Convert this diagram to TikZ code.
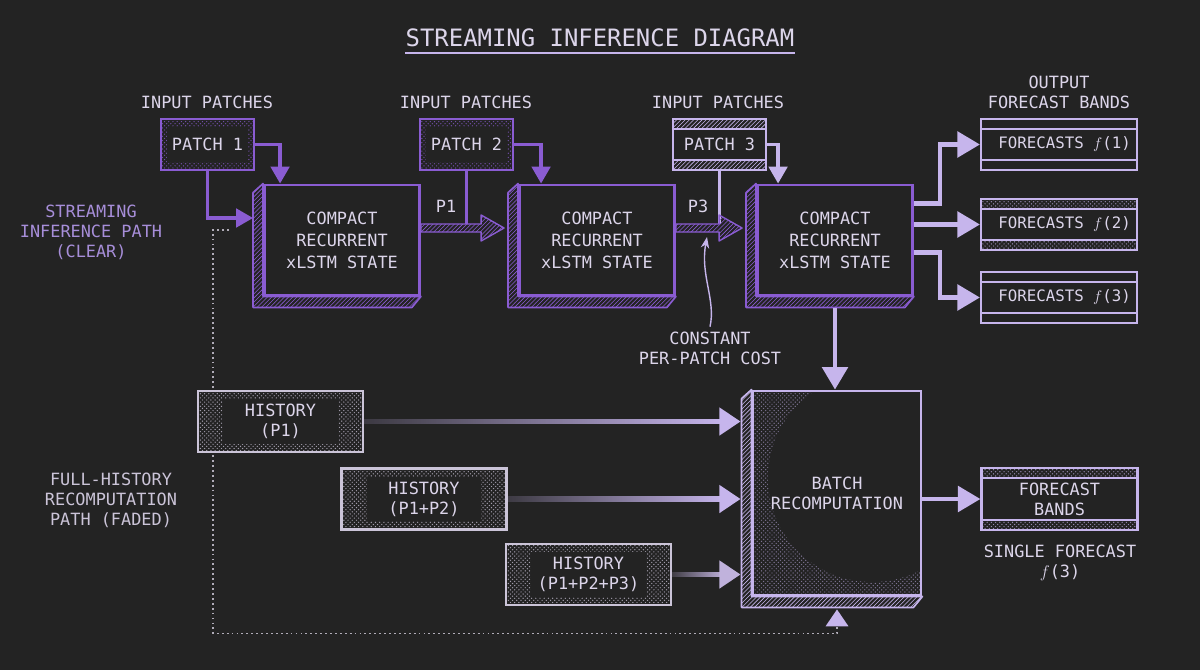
\documentclass[tikz,border=0pt]{standalone}
\usepackage{fontspec}
\setmainfont{DejaVu Sans Mono}
\usetikzlibrary{arrows.meta, positioning, calc, patterns, fadings}
\definecolor{bgc}{HTML}{232323}
\definecolor{vio}{HTML}{8A5CD2}
\definecolor{lav}{HTML}{C6B5EC}
\definecolor{ink}{HTML}{DCD5EA}
\definecolor{dim}{HTML}{A78ED9}
\definecolor{hist}{HTML}{CBC4D8}
\definecolor{fog}{HTML}{B0ACB8}
\tikzfading[name=fadein, left color=transparent!85, right color=transparent!0]

\begin{document}
\begin{tikzpicture}[x=0.025cm, y=-0.025cm,
  txt/.style={text=ink, align=center, font=\fontsize{12}{14.2}\selectfont},
  statebox/.style={txt, draw=#1, line width=2pt, fill=bgc,
    minimum width=3.875cm, minimum height=2.75cm, font=\fontsize{12}{15.6}\selectfont},
  dotframe/.style 2 args={path picture={
      \fill[pattern=crosshatch dots, pattern color=#1]
        (path picture bounding box.south west) rectangle (path picture bounding box.north east);
      \fill[bgc] ([shift={(#2,-6pt)}]path picture bounding box.north west)
        rectangle ([shift={(-#2,6pt)}]path picture bounding box.south east);}},
  bands/.style 2 args={path picture={
      \fill[#2] (path picture bounding box.north west) rectangle ([yshift=-7pt]path picture bounding box.north east);
      \fill[#2] (path picture bounding box.south west) rectangle ([yshift=7pt]path picture bounding box.south east);
      \draw[#1, line width=1pt]
        ([yshift=-7pt]path picture bounding box.north west) -- ([yshift=-7pt]path picture bounding box.north east)
        ([yshift=7pt]path picture bounding box.south west) -- ([yshift=7pt]path picture bounding box.south east);}},
  patchbox/.style={txt, draw=#1, line width=1.8pt, fill=bgc, minimum width=2.325cm, minimum height=1.275cm},
  fcbox/.style={txt, draw=lav, line width=1.5pt, fill=bgc, minimum width=3.9cm, minimum height=1.275cm,
    font=\fontsize{11.2}{14.2}\selectfont},
  histbox/.style={txt, draw=hist, line width=1.5pt, fill=bgc, minimum width=4.125cm, minimum height=1.525cm,
    dotframe={hist!75!bgc}{18pt}},
  viowire/.style={vio, line width=2.6pt, -{Triangle[length=12pt, width=13pt]}},
  lavwire/.style={lav, line width=3.2pt, -{Triangle[length=16pt, width=18pt]}},
  fatarrow/.style={draw=vio, line width=1pt, line join=round, pattern=north east lines, pattern color=vio},
  histline/.style={#1, line width=3.6pt, path fading=fadein},
  histtip/.style={#1, line width=3.6pt, -{Triangle[length=15pt, width=19pt]}}]

  \fill[bgc] (0,0) rectangle (1200,670);
  \useasboundingbox (0,0) rectangle (1200,670);

  % title
  \node[txt, font=\fontsize{17}{20}\selectfont, inner xsep=0pt, inner ysep=4pt] (title) at (600,38)
    {STREAMING INFERENCE DIAGRAM};
  \draw[lav, line width=1.2pt] (title.south west) -- (title.south east);

  % streaming path
  \node[statebox=vio] (s1) at (342,240) {COMPACT\\RECURRENT\\xLSTM STATE};
  \node[statebox=vio] (s2) at (597,240) {COMPACT\\RECURRENT\\xLSTM STATE};
  \node[statebox=vio] (s3) at (835,240) {COMPACT\\RECURRENT\\xLSTM STATE};
  \node[statebox=lav, minimum width=4.2cm, minimum height=5.1cm, font=\fontsize{12}{14.2}\selectfont,
    path picture={
      \fill[pattern=crosshatch dots, pattern color=lav!55!bgc]
        (path picture bounding box.south west) rectangle (path picture bounding box.north east);
      \fill[bgc] ($(path picture bounding box.north west)+(119,87)$) circle[radius=104];}]
    (ba) at (837,493) {BATCH\\RECOMPUTATION};

  \foreach \nd/\cc in {s1/vio, s2/vio, s3/vio, ba/lav}
    \filldraw[draw=\cc, line width=1.2pt, line join=round, pattern=north east lines, pattern color=\cc]
      (\nd.north west) -- ++(-10,9) |- ($(\nd.south east)+(-9,11)$) -- (\nd.south east)
      -- (\nd.south west) -- cycle;

  \node[patchbox=vio, dotframe={vio!75!bgc}{4pt}] (pa1) at (207.5,144.5) {PATCH 1};
  \node[patchbox=vio, dotframe={vio!75!bgc}{4pt}] (pa2) at (466.5,144.5) {PATCH 2};
  \node[patchbox=lav, bands={lav}{pattern=north east lines, pattern color=lav}] (pa3) at (719.5,144.5) {PATCH 3};

  \node[txt] (in1) at (207,102) {INPUT PATCHES};
  \node[txt] (in2) at (466,102) {INPUT PATCHES};
  \node[txt] (in3) at (718,102) {INPUT PATCHES};
  \node[txt] (outl) at (1059,92) {OUTPUT\\FORECAST BANDS};
  \node[txt] (p1l) at (446,206) {P1};
  \node[txt] (p3l) at (698,206) {P3};
  \node[txt, text=dim] (streaml) at (91,232) {STREAMING\\INFERENCE PATH\\(CLEAR)};
  \node[txt, text=hist] (fulll) at (111,500) {FULL-HISTORY\\RECOMPUTATION\\PATH (FADED)};
  \node[txt] (cc) at (710,348) {CONSTANT\\PER-PATCH COST};
  \node[txt] (sfl) at (1060,563) {SINGLE FORECAST\\$f$(3)};

  \node[fcbox, bands={lav}{bgc}] (f1) at (1059,144.5) {\hspace*{8pt}FORECASTS $f$(1)};
  \node[fcbox, bands={lav}{pattern=crosshatch dots, pattern color=lav!70!bgc}] (f2) at (1059,224.5) {\hspace*{8pt}FORECASTS $f$(2)};
  \node[fcbox, bands={lav}{bgc}] (f3) at (1059,297.5) {\hspace*{8pt}FORECASTS $f$(3)};
  \node[fcbox, minimum height=1.55cm, font=\fontsize{12}{14.2}\selectfont,
    bands={lav}{pattern=crosshatch dots, pattern color=lav!70!bgc}]
    (fb) at (1059.5,499) {FORECAST\\BANDS};

  % patches into the states
  \coordinate (p1top) at ($(s1.east)+(0,-16)$);
  \coordinate (p3top) at ($(s2.east)+(0,-16)$);
  \draw[viowire] (pa1.east) -| ($(s1.north west)+(17,0)$);
  \draw[viowire] (pa1.south) |- ($(s1.west)+(-10,-22)$);
  \draw[viowire] (pa2.east) -| ($(s2.north west)+(23,0)$);
  \draw[vio, line width=2.6pt] (pa2.south) -- (pa2.south |- p1top);
  \draw[viowire, lav] (pa3.east) -| ($(s3.north west)+(22,0)$);
  \draw[lav, line width=2.6pt] (pa3.south) -- (pa3.south |- p3top);

  \filldraw[fatarrow] (p1top) -- ($(s2.west)+(-37,-16)$) -- ++(0,-9) -- ($(s2.west)+(-14,-12)$)
    -- ($(s2.west)+(-37,1)$) -- ++(0,-9) -- ($(s1.east)+(0,-8)$) -- cycle;
  \filldraw[fatarrow] (p3top) -- ($(s3.west)+(-37,-16)$) -- ++(0,-9) -- ($(s3.west)+(-14,-12)$)
    -- ($(s3.west)+(-37,1)$) -- ++(0,-9) -- ($(s2.east)+(0,-8)$) -- cycle;

  \coordinate (ctip) at (707,237);
  \draw[lav, line width=1pt, -{Stealth[length=8pt, width=6pt]}] (cc.north) .. controls (716,300) and (700,275) .. (ctip);

  % outputs
  \draw[lavwire] ($(s3.north east)+(0,20)$) -- ++(26,0) |- (f1.west);
  \draw[lavwire] (s3.east |- f2.west) -- (f2.west);
  \draw[lavwire] ($(s3.south east)+(0,-44)$) -- ++(26,0) |- (f3.west);
  \draw[lavwire] ($(s3.south)+(0,12)$) -- (s3.south |- ba.north);
  \draw[lavwire] (ba.east |- fb.west) -- (fb.west);

  % recomputation path
  \coordinate (lp) at (229,230);
  \draw[fog, line width=1.3pt, dash pattern=on 1.3pt off 2.2pt, -{Triangle[length=12pt, width=16pt, color=lav]}]
    (lp) -- ++(-16,0) |- ($(ba.south)+(0,37)$) -- ($(ba.south)+(0,13)$);

  \node[histbox] (h1) at (280.5,421.5) {HISTORY\\(P1)};
  \node[histbox] (h2) at (424,499) {HISTORY\\(P1+P2)};
  \node[histbox] (h3) at (588.5,574.5) {HISTORY\\(P1+P2+P3)};

  \foreach \h/\hc in {h1/lav, h2/lav, h3/lav!70!fog} {
    \draw[histline=\hc] (\h.east) -- ($(\h.east -| ba.west)+(-30,0)$);
    \draw[histtip=\hc] ($(\h.east -| ba.west)+(-32,0)$) -- ($(\h.east -| ba.west)+(-11,0)$);
  }
\end{tikzpicture}
\end{document}
